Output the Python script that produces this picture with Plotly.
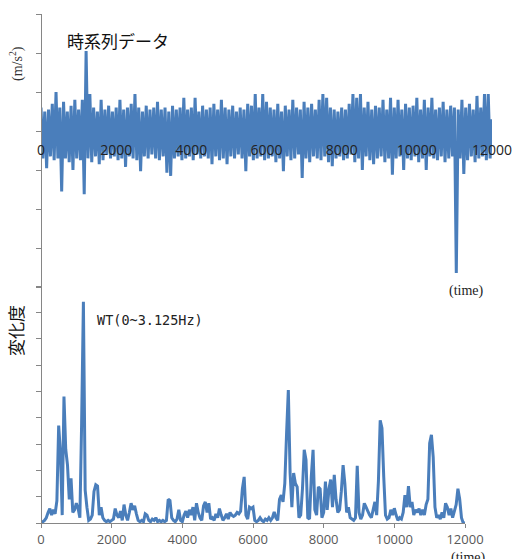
import plotly.graph_objects as go

# ---- data ----
accel_time = list(range(0, 12001, 50))
accel = [
    0.6, -0.7, 0.5, -0.95, 0.55, -0.65, 0.7, -0.75, 1.0, -0.7,
    0.6, -1.55, 0.75, -0.7, 0.5, -0.8, 0.65, -1.0, 0.8, -0.7,
    0.55, -0.75, 0.8, -1.62, 2.05, -0.7, 0.95, -0.8, 0.6, -0.65,
    0.5, -0.85, 0.8, -0.75, 0.55, -0.6, 0.65, -0.7, 0.5, -0.65,
    0.6, -0.75, 0.8, -0.7, 0.55, -0.92, 0.6, -0.65, 0.7, -0.7,
    0.95, -0.75, 0.6, -1.03, 0.5, -0.65, 0.65, -0.7, 0.55, -0.6,
    0.6, -0.7, 0.75, -0.75, 0.55, -0.65, 0.6, -1.07, 0.5, -1.15,
    0.65, -0.7, 0.55, -0.65, 0.6, -0.75, 0.85, -0.7, 0.55, -0.65,
    0.6, -0.75, 0.85, -0.6, 0.5, -0.7, 0.65, -0.65, 0.55, -0.7,
    0.6, -0.85, 0.7, -0.65, 0.55, -0.75, 0.8, -0.7, 0.6, -0.85,
    0.55, -0.65, 0.65, -0.7, 0.5, -0.6, 0.6, -0.7, 0.55, -1.03,
    0.7, -0.65, 0.65, -0.75, 0.95, -0.7, 0.6, -0.65, 0.95, -0.75,
    0.75, -0.7, 0.6, -0.65, 0.55, -0.8, 0.7, -0.7, 0.5, -1.03,
    0.65, -0.65, 0.55, -0.75, 0.8, -0.7, 0.6, -0.6, 0.55, -1.2,
    0.75, -0.7, 0.6, -0.8, 0.7, -0.65, 0.55, -0.7, 0.8, -0.75,
    0.95, -0.65, 0.85, -0.8, 0.6, -0.9, 0.55, -0.7, 0.5, -0.65,
    0.6, -0.75, 0.55, -0.7, 0.7, -0.6, 0.95, -0.8, 0.85, -0.7,
    0.95, -1.0, 0.6, -0.65, 0.75, -0.75, 0.55, -0.85, 0.65, -0.7,
    0.6, -0.65, 0.8, -0.8, 0.55, -0.7, 0.85, -1.12, 0.6, -0.7,
    0.8, -0.65, 0.55, -1.0, 0.7, -0.7, 0.6, -0.75, 0.65, -0.65,
    0.85, -0.8, 0.55, -0.7, 0.8, -1.0, 0.6, -0.65, 0.85, -0.7,
    0.55, -0.75, 0.6, -0.65, 0.75, -0.8, 0.55, -0.7, 0.65, -0.65,
    0.6, -3.64, 0.55, -0.7, 0.8, -1.1, 0.6, -0.75, 0.7, -0.65,
    0.55, -0.8, 0.9, -0.7, 0.6, -0.65, 0.95, -0.75, 0.95, -0.7,
    0.3,
]

wt_time = list(range(0, 12001, 50))
wt = [
    0.0, 0.05, 0.1, 0.2, 0.4, 0.55, 0.3, 0.5, 0.35, 0.85,
    3.7, 2.7, 0.3, 4.8, 2.8, 2.2, 0.9, 1.7, 0.4, 0.5,
    0.75, 0.55, 0.2, 3.8, 8.4, 1.25, 0.6, 0.1, 0.15, 0.3,
    1.2, 1.45, 1.4, 0.3, 0.6, 0.2, 0.1, 0.05, 0.1, 0.05,
    0.1, 0.15, 0.55, 0.3, 0.2, 0.45, 0.1, 0.7, 0.3, 0.1,
    0.4, 0.75, 0.5, 0.65, 0.35, 0.1, 0.05, 0.1, 0.05, 0.35,
    0.3, 0.1, 0.05, 0.15, 0.1, 0.2, 0.05, 0.1, 0.05, 0.1,
    0.05, 0.1, 0.9, 0.85, 0.2, 0.1, 0.05, 0.15, 0.5, 0.1,
    0.05, 0.3, 0.45, 0.2, 0.5, 0.3, 0.6, 0.1, 0.75, 0.4,
    0.2, 0.1, 0.65, 0.8, 0.4, 0.75, 0.15, 0.2, 0.1, 0.35,
    0.2, 0.55, 0.3, 0.1, 0.2, 0.35, 0.15, 0.4, 0.3, 0.25,
    0.3, 0.4, 0.35, 0.45, 1.3, 1.75, 0.3, 0.15, 0.6, 0.55,
    0.6, 0.1, 0.05, 0.1, 0.2, 0.1, 0.05, 0.15, 0.1, 0.2,
    0.1, 0.2, 0.42, 0.2, 0.1, 0.9, 1.06, 0.8, 1.5, 3.4,
    5.05, 1.9, 0.6, 1.9, 1.5, 1.37, 0.2, 0.3, 1.3, 2.78,
    2.4, 0.2, 0.15, 1.76, 2.78, 0.5, 0.3, 1.37, 1.3, 0.2,
    0.4, 1.57, 0.5, 1.3, 1.65, 0.6, 1.83, 0.9, 0.4, 0.5,
    1.2, 2.2, 1.5, 0.4, 0.6, 0.2, 0.15, 0.1, 0.2, 2.17,
    0.4, 0.15, 0.3, 0.75, 0.6, 0.45, 0.3, 0.2, 0.5, 0.8,
    0.3, 1.6, 3.9, 3.6, 1.76, 0.3, 0.15, 0.2, 0.5, 0.3,
    0.56, 0.3, 0.1, 0.2, 0.15, 0.4, 1.06, 0.6, 1.4, 0.6,
    0.8, 0.3, 0.5, 0.4, 0.55, 0.3, 0.5, 0.3, 0.7, 0.9,
    3.03, 3.35, 2.5, 0.6, 0.2, 0.3, 0.15, 0.4, 0.2, 0.75,
    0.6, 0.3, 0.55, 0.2, 0.45, 0.7, 1.3, 0.9, 0.2, 0.0,
    0.0,
]

x_ticks = [0, 2000, 4000, 6000, 8000, 10000, 12000]
x_tick_labels = ["0", "2000", "4000", "6000", "8000", "10000", "12000"]

# ---- figure ----
W, H = 512, 559
ML, MR, MT, MB = 41, 20, 14, 36
PW, PH = W - ML - MR, H - MT - MB


def px(x):
    return (x - ML) / PW


def py(y):
    return (H - MB - y) / PH


BLUE = "#4a7ebb"
GRAY = "#868686"

fig = go.Figure()
fig.add_trace(go.Scatter(x=accel_time, y=accel, mode="lines",
                         line=dict(color=BLUE, width=3, simplify=False),
                         xaxis="x", yaxis="y", showlegend=False))
fig.add_trace(go.Scatter(x=wt_time, y=wt, mode="lines",
                         line=dict(color=BLUE, width=3, simplify=False),
                         xaxis="x2", yaxis="y2", showlegend=False))

fig.update_layout(
    width=W, height=H,
    margin=dict(l=ML, r=MR, t=MT, b=MB, autoexpand=False),
    paper_bgcolor="white", plot_bgcolor="rgba(0,0,0,0)",
    font=dict(family="Open Sans, Noto Sans, sans-serif"),
    xaxis=dict(domain=[0, 1], range=[0, 12000], anchor="free", position=py(131),
               showline=False, showgrid=False, zeroline=False, ticks="",
               automargin=False, ticklabeloverflow="allow",
               tickvals=x_ticks, ticktext=x_tick_labels,
               tickfont=dict(size=14, color="#222222"), ticklabelstandoff=9),
    yaxis=dict(domain=[py(298), 1], range=[-4.28, 3], anchor="free", position=0,
               showline=True, linecolor=GRAY, linewidth=1, showgrid=False,
               zeroline=False, ticks="outside", ticklen=5, tickcolor=GRAY,
               automargin=False,
               dtick=1, tick0=0, showticklabels=False),
    xaxis2=dict(domain=[0, px(465)], range=[0, 12000], anchor="y2",
                showline=True, linecolor=GRAY, linewidth=1, showgrid=False,
                zeroline=False, ticks="outside", ticklen=4, tickcolor=GRAY,
                automargin=False, ticklabeloverflow="allow",
                tickvals=x_ticks, ticktext=x_tick_labels,
                tickfont=dict(size=13, color="#595959")),
    yaxis2=dict(domain=[0, py(286)], range=[0, 9], anchor="free", position=0,
                showline=True, linecolor=GRAY, linewidth=1, showgrid=False,
                zeroline=False, ticks="outside", ticklen=5, tickcolor=GRAY,
                automargin=False,
                dtick=1, tick0=0, showticklabels=False),
)

ann = [
    dict(text="時系列データ", x=px(118), y=py(40),
         font=dict(family="Noto Sans CJK JP", size=17, color="#111111")),
    dict(text="(m/s<sup>2</sup>)", x=px(16), y=py(64), textangle=-90,
         font=dict(family="Liberation Serif", size=14, color="#333333")),
    dict(text="(time)", x=px(466), y=py(291),
         font=dict(family="Liberation Serif", size=14, color="#222222")),
    dict(text="変化度", x=px(16), y=py(331), textangle=-90,
         font=dict(family="Noto Sans CJK JP", size=17, color="#111111")),
    dict(text="WT(0~3.125Hz)", x=px(95), y=py(320), xanchor="left",
         font=dict(family="DejaVu Sans Mono", size=13.5, color="#222222")),
    dict(text="(time)", x=px(468), y=py(558),
         font=dict(family="Liberation Serif", size=14, color="#222222")),
]
for a in ann:
    a.setdefault("xanchor", "center")
    a.update(xref="paper", yref="paper", yanchor="middle", showarrow=False)
    fig.add_annotation(**a)

fig.write_html(
    "out.html",
    config={"displayModeBar": False},
    post_script="document.body.style.margin='0';document.body.style.overflow='hidden';",
)
